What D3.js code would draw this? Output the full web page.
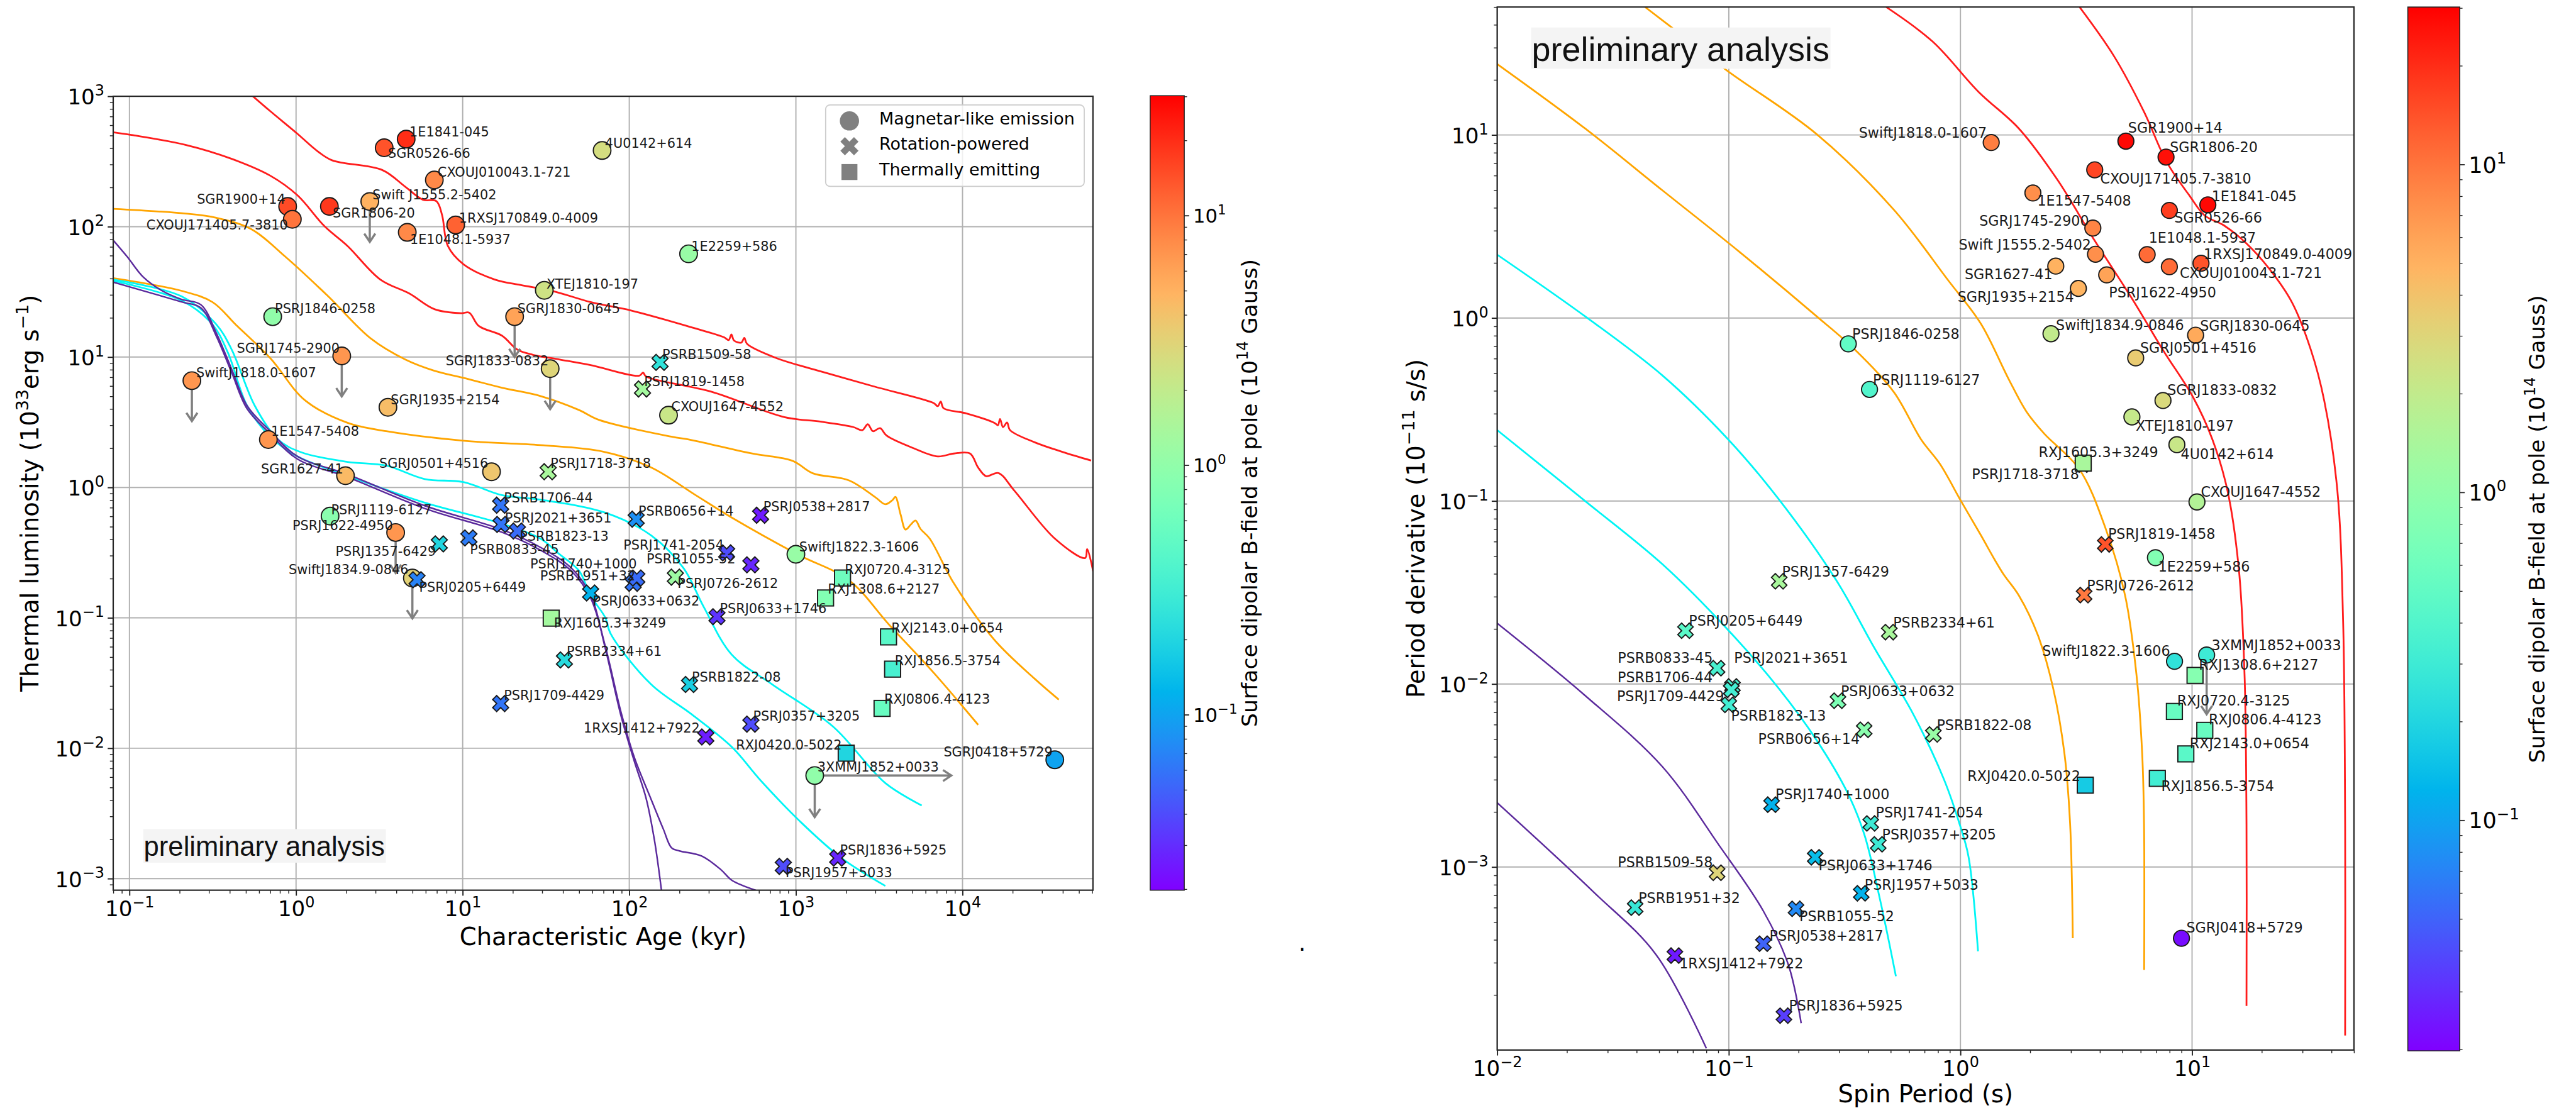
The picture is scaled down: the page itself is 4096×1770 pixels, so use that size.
<!DOCTYPE html>
<html>
<head>
<meta charset="utf-8">
<title>Neutron star thermal luminosity and spin evolution</title>
<script src="https://cdn.jsdelivr.net/npm/d3@7/dist/d3.min.js"></script>
<style>
  html, body { margin: 0; padding: 0; background: #fff; overflow: hidden; }
  svg { display: block; }
</style>
</head>
<body>
<svg id="fig" width="4096" height="1770" viewBox="0 0 4681 2023"></svg>
<script>
// ---------------------------------------------------------------------------
// Data
// ---------------------------------------------------------------------------

// Colour axis: surface dipolar B-field at the pole (1e14 G), log scale
const fieldRange = [0.0198, 30.2];
const fieldTicks = [0.1, 1, 10];

// Left panel axes
const ageRange = [0.0799, 60640];          // kyr
const lumRange = [8.15e-4, 1000];          // 1e33 erg/s
const ageTicks = [0.1, 1, 10, 100, 1000, 10000];
const lumTicks = [0.001, 0.01, 0.1, 1, 10, 100, 1000];

// Right panel axes
const periodRange = [0.01, 50];            // s
const pdotRange = [1e-4, 50];              // 1e-11 s/s
const periodTicks = [0.01, 0.1, 1, 10];
const pdotTicks = [0.001, 0.01, 0.1, 1, 10];

// Source classes: M = magnetar-like emission, R = rotation-powered, T = thermally emitting
const classNames = [["M", "Magnetar-like emission"], ["R", "Rotation-powered"], ["T", "Thermally emitting"]];

// [name, class, characteristic age (kyr), thermal luminosity (1e33 erg/s), B pole (1e14 G)]
const lumAgeSources = [
  ["1E1841-045", "M", 4.58, 469, 20],
  ["SGR0526-66", "M", 3.38, 403, 14],
  ["CXOUJ010043.1-721", "M", 6.76, 228, 8],
  ["Swift J1555.2-5402", "M", 2.77, 156, 5],
  ["SGR1900+14", "M", 0.89, 143, 15],
  ["CXOUJ171405.7-3810", "M", 0.95, 114, 10],
  ["SGR1806-20", "M", 1.585, 143, 18],
  ["1RXSJ170849.0-4009", "M", 9.08, 103, 12],
  ["1E1048.1-5937", "M", 4.65, 90.4, 8],
  ["4U0142+614", "M", 68.7, 384, 2.6],
  ["XTEJ1810-197", "M", 30.9, 32.5, 2.4],
  ["1E2259+586", "M", 227, 61.9, 1.1],
  ["PSRJ1846-0258", "M", 0.724, 20.4, 1.0],
  ["SGRJ1830-0645", "M", 20.5, 20.4, 6],
  ["SGRJ1745-2900", "M", 1.88, 10.2, 7],
  ["SGRJ1833-0832", "M", 33.5, 8.15, 3],
  ["SwiftJ1818.0-1607", "M", 0.237, 6.59, 7],
  ["SGRJ1935+2154", "M", 3.56, 4.12, 4.3],
  ["1E1547-5408", "M", 0.682, 2.33, 7],
  ["SGRJ0501+4516", "M", 14.9, 1.32, 3.8],
  ["SGR1627-41", "M", 1.98, 1.23, 4.5],
  ["PSRJ1119-6127", "M", 1.6, 0.603, 0.9],
  ["PSRJ1622-4950", "M", 3.96, 0.451, 7],
  ["SwiftJ1834.9-0846", "M", 4.99, 0.202, 3.2],
  ["SwiftJ1822.3-1606", "M", 1000, 0.307, 1.1],
  ["3XMMJ1852+0033", "M", 1297, 0.00617, 1.0],
  ["SGRJ0418+5729", "M", 35800, 0.00815, 0.1],
  ["CXOUJ1647-4552", "M", 172, 3.58, 2.2],
  ["PSRJ1718-3718", "R", 32.6, 1.32, 1.4],
  ["PSRB1509-58", "R", 153, 9.1, 0.25],
  ["PSRJ1819-1458", "R", 120, 5.69, 1.3],
  ["PSRJ1357-6429", "R", 7.24, 0.369, 0.2],
  ["PSRJ0205+6449", "R", 5.32, 0.196, 0.07],
  ["PSRB0833-45", "R", 10.9, 0.41, 0.065],
  ["PSRB1706-44", "R", 16.9, 0.731, 0.06],
  ["PSRJ2021+3651", "R", 17.0, 0.52, 0.06],
  ["PSRB1823-13", "R", 21.3, 0.463, 0.055],
  ["PSRB1951+32", "R", 105.5, 0.184, 0.06],
  ["PSRJ1740+1000", "R", 111, 0.202, 0.055],
  ["PSRJ0633+0632", "R", 58.6, 0.155, 0.12],
  ["PSRB2334+61", "R", 40.8, 0.0475, 0.22],
  ["PSRJ1709-4429", "R", 16.9, 0.022, 0.06],
  ["PSRB0656+14", "R", 110, 0.571, 0.08],
  ["PSRJ0538+2817", "R", 614, 0.612, 0.025],
  ["PSRJ1741-2054", "R", 384, 0.315, 0.04],
  ["PSRB1055-52", "R", 537, 0.255, 0.028],
  ["PSRJ0726-2612", "R", 189, 0.205, 1.2],
  ["PSRJ0633+1746", "R", 336, 0.102, 0.032],
  ["PSRB1822-08", "R", 230, 0.0308, 0.18],
  ["PSRJ0357+3205", "R", 537, 0.0153, 0.04],
  ["1RXSJ1412+7922", "R", 288, 0.0122, 0.026],
  ["PSRJ1836+5925", "R", 1782, 0.001436, 0.028],
  ["PSRJ1957+5033", "R", 840, 0.00124, 0.04],
  ["RXJ1605.3+3249", "T", 34, 0.0994, 1.3],
  ["RXJ0720.4-3125", "T", 1905, 0.202, 0.6],
  ["RXJ1308.6+2127", "T", 1507, 0.142, 0.8],
  ["RXJ2143.0+0654", "T", 3597, 0.0714, 0.45],
  ["RXJ1856.5-3754", "T", 3805, 0.0404, 0.35],
  ["RXJ0806.4-4123", "T", 3289, 0.0202, 0.55],
  ["RXJ0420.0-5022", "T", 2004, 0.00916, 0.2]
];

// Upper limits / lower limits: [name, direction, factor applied to the value]
const lumAgeLimits = [
  ["Swift J1555.2-5402", "down", 0.49],
  ["SGRJ1830-0645", "down", 0.49],
  ["SGRJ1745-2900", "down", 0.49],
  ["SGRJ1833-0832", "down", 0.49],
  ["SwiftJ1818.0-1607", "down", 0.49],
  ["PSRJ1622-4950", "down", 0.49],
  ["SwiftJ1834.9-0846", "down", 0.49],
  ["3XMMJ1852+0033", "down", 0.48],
  ["3XMMJ1852+0033", "right", 6.6]
];

// Luminosity tracks [age kyr, L 1e33 erg/s]
const lumTrackHighA = [[0.551,1000],[0.70,769],[1.019,516],[1.329,384],[1.644,323],[3.29,272],[4.53,202],[5.77,161],[6.95,157],[7.52,123],[8.15,71.1],[10.09,51.6],[15.5,39.4],[22.4,35.6],[34.4,32.2],[58.6,26.4],[102.6,22.75],[236.6,16.9],[369.8,14.2],[395,13.5],[410,14.9],[425,13.4],[470,12.9],[490,14.0],[510,12.6],[763.8,9.82],[1500,7.6],[2911,5.97],[6714,4.44],[7100,4.2],[7400,4.55],[7700,4.05],[10500,3.7],[15524,3.13],[16300,3.0],[16800,3.35],[17500,2.9],[18500,3.15],[19300,2.75],[27100,2.22],[40000,1.87],[59160,1.61]];
const lumTrackHighB = [[0.0799,530],[0.1028,505],[0.2168,424],[0.411,331],[0.70,246],[1.019,174],[1.479,101],[2.037,71.1],[3.206,39.3],[4.786,30.7],[6.761,23.3],[9.817,21.7],[10.94,21.9],[12.5,17.3],[17.2,14.6],[21.3,11.4],[26.4,10.4],[38.3,9.57],[58.6,8.67],[115,7.2],[121,7.6],[126,7.1],[312.6,5.41],[853,3.46],[1400,3.2],[2203,2.91],[2500,2.75],[2700,3.05],[2900,2.7],[3200,2.85],[3500,2.5],[5082,2.0],[7096,1.73],[8872,1.82],[11092,1.82],[12417,1.42],[13868,1.22],[16406,1.29],[20512,0.942],[35810,0.4055],[54450,0.2877],[55980,0.337],[60810,0.2275]];
const lumTrackMidA = [[0.0799,137],[0.2168,126],[0.332,117],[0.537,95.9],[0.867,58.5],[1.56,29.2],[2.805,13.9],[4.529,9.57],[6.761,7.85],[10.09,6.93],[17.2,5.82],[29.3,5.02],[50.0,3.92],[65.6,3.30],[179,2.45],[236.6,2.31],[545.8,1.82],[955,1.60],[1262,1.285],[2084,1.132],[3000,0.84],[3443,0.743],[3800,0.80],[3954,0.847],[4250,0.62],[4550,0.475],[4900,0.52],[5224,0.557],[5600,0.48],[6353,0.4055],[8872,0.184],[15524,0.0678],[27100,0.0341],[37840,0.0236]];
const lumTrackMidB = [[0.0799,40.3],[0.2056,32.2],[0.3148,26.4],[0.4335,17.8],[0.70,9.82],[1.132,4.66],[2.037,3.13],[3.475,2.70],[10.09,2.28],[29.3,2.11],[70,1.88],[135.5,1.42],[250,0.873],[413,0.586],[1021,0.307],[2084,0.194],[3639,0.0881],[6714,0.0379],[12417,0.0151]];
const lumTrackLowA = [[0.0799,39.3],[0.2056,29.2],[0.332,17.8],[0.411,11.4],[0.566,4.22],[0.78,2.33],[1.074,1.86],[2.037,1.57],[3.475,1.47],[5.916,1.16],[10.09,1.10],[17.2,0.873],[29.3,0.805],[71.9,0.64],[135.5,0.428],[211.8,0.24],[280,0.121],[413,0.052],[722.8,0.0308],[1667,0.0147],[3443,0.0054],[5689,0.00364]];
const lumTrackLowB = [[0.0799,38.4],[0.2056,27.1],[0.3148,17.8],[0.39,10.8],[0.509,4.22],[0.70,2.45],[1.019,1.73],[2.037,1.23],[5.916,0.764],[17.2,0.527],[29.3,0.4055],[37.6,0.312],[50,0.229],[58.6,0.148],[71.9,0.10],[77.4,0.0752],[135.5,0.0308],[236.6,0.0182],[413,0.0102],[611,0.0057],[1067,0.00272],[1862,0.00145],[3443,0.000879]];
const lumTrackVlowA = [[0.0799,78.7],[0.0973,58.5],[0.1205,41.3],[0.1574,32.2],[0.2056,27.7],[0.2685,25.2],[0.332,15.3],[0.411,8.04],[0.509,4.22],[0.70,2.70],[1.019,1.73],[2.037,1.26],[5.916,0.724],[17.2,0.475],[29.3,0.347],[45.0,0.24],[58.6,0.149],[71.9,0.0578],[89.1,0.0178],[107.2,0.00794],[125.9,0.00417],[141.3,0.002],[156,0.000813]];
const lumTrackVlowB = [[0.0799,37.5],[0.2056,26.5],[0.2685,23.8],[0.332,14.5],[0.411,7.6],[0.509,4.0],[0.70,2.58],[1.019,1.65],[2.037,1.2],[5.916,0.69],[17.2,0.453],[29.3,0.33],[45.0,0.228],[58.6,0.142],[71.9,0.06],[89.1,0.019],[107.2,0.0085],[134,0.00417],[160,0.0024],[179.5,0.00172],[200,0.00163],[272,0.00149],[355,0.00117],[413,0.00097],[575,0.000813]];

// [name, class, spin period (s), period derivative (1e-11 s/s), B pole (1e14 G)]
const spinSources = [
  ["SwiftJ1818.0-1607", "M", 1.358, 9.09, 9],
  ["PSRJ1846-0258", "M", 0.328, 0.722, 0.5],
  ["PSRJ1119-6127", "M", 0.405, 0.407, 0.4],
  ["SGR1900+14", "M", 5.18, 9.25, 28],
  ["SGR1806-20", "M", 7.72, 7.57, 26],
  ["CXOUJ171405.7-3810", "M", 3.80, 6.45, 16],
  ["1E1547-5408", "M", 2.055, 4.82, 7.5],
  ["1E1841-045", "M", 11.7, 4.15, 28],
  ["SGR0526-66", "M", 7.98, 3.87, 17],
  ["SGRJ1745-2900", "M", 3.73, 3.10, 8.5],
  ["Swift J1555.2-5402", "M", 3.83, 2.23, 7.5],
  ["1E1048.1-5937", "M", 6.4, 2.22, 11],
  ["1RXSJ170849.0-4009", "M", 10.93, 1.99, 14],
  ["CXOUJ010043.1-721", "M", 7.98, 1.905, 11],
  ["SGR1627-41", "M", 2.58, 1.92, 5],
  ["PSRJ1622-4950", "M", 4.28, 1.72, 6],
  ["SGRJ1935+2154", "M", 3.23, 1.45, 4.8],
  ["SwiftJ1834.9-0846", "M", 2.46, 0.82, 2],
  ["SGRJ1830-0645", "M", 10.36, 0.805, 5.5],
  ["SGRJ0501+4516", "M", 5.71, 0.605, 3.5],
  ["SGRJ1833-0832", "M", 7.49, 0.354, 2.8],
  ["XTEJ1810-197", "M", 5.5, 0.288, 2.1],
  ["4U0142+614", "M", 8.6, 0.203, 2.2],
  ["CXOUJ1647-4552", "M", 10.5, 0.0988, 1.6],
  ["1E2259+586", "M", 6.95, 0.049, 0.8],
  ["SwiftJ1822.3-1606", "M", 8.4, 0.0133, 0.25],
  ["3XMMJ1852+0033", "M", 11.56, 0.0144, 0.3],
  ["SGRJ0418+5729", "M", 9.0, 0.000408, 0.022],
  ["PSRJ1718-3718", "R", 3.38, 0.158, 1.4],
  ["PSRJ1819-1458", "R", 4.22, 0.0579, 14],
  ["PSRJ0726-2612", "R", 3.42, 0.0306, 9.5],
  ["PSRJ1357-6429", "R", 0.165, 0.0364, 1.4],
  ["PSRJ0205+6449", "R", 0.065, 0.01955, 0.45],
  ["PSRB2334+61", "R", 0.493, 0.0192, 1.4],
  ["PSRB0833-45", "R", 0.089, 0.0122, 0.35],
  ["PSRJ2021+3651", "R", 0.1037, 0.0097, 0.35],
  ["PSRB1706-44", "R", 0.1025, 0.0093, 0.33],
  ["PSRJ1709-4429", "R", 0.1025, 0.0093, 0.33],
  ["PSRB1823-13", "R", 0.1, 0.00769, 0.32],
  ["PSRJ0633+0632", "R", 0.296, 0.0081, 0.75],
  ["PSRB0656+14", "R", 0.384, 0.00562, 0.9],
  ["PSRB1822-08", "R", 0.764, 0.0053, 1.1],
  ["PSRJ1740+1000", "R", 0.153, 0.00219, 0.12],
  ["PSRJ1741-2054", "R", 0.41, 0.00173, 0.3],
  ["PSRJ0357+3205", "R", 0.4416, 0.00133, 0.3],
  ["PSRJ0633+1746", "R", 0.236, 0.00113, 0.14],
  ["PSRB1509-58", "R", 0.089, 0.00093, 3],
  ["PSRJ1957+5033", "R", 0.373, 0.000718, 0.12],
  ["PSRB1951+32", "R", 0.0394, 0.0006, 0.28],
  ["PSRB1055-52", "R", 0.195, 0.000591, 0.075],
  ["PSRJ0538+2817", "R", 0.141, 0.000381, 0.05],
  ["1RXSJ1412+7922", "R", 0.0585, 0.000328, 0.025],
  ["PSRJ1836+5925", "R", 0.173, 0.000154, 0.035],
  ["RXJ1605.3+3249", "T", 3.39, 0.161, 1.4],
  ["RXJ1308.6+2127", "T", 10.3, 0.01114, 0.85],
  ["RXJ0720.4-3125", "T", 8.39, 0.00708, 0.55],
  ["RXJ0806.4-4123", "T", 11.35, 0.00558, 0.55],
  ["RXJ2143.0+0654", "T", 9.4, 0.00415, 0.45],
  ["RXJ1856.5-3754", "T", 7.08, 0.00305, 0.32],
  ["RXJ0420.0-5022", "T", 3.46, 0.0028, 0.17]
];

const spinLimits = [["3XMMJ1852+0033", "down", 0.475]];

// Spin tracks [P s, Pdot 1e-11 s/s]
const spinTrackHighA = [[0.478,50],[0.758,32.4],[1.20,17.15],[1.788,10.84],[2.608,5.75],[3.80,2.644],[5.54,1.26],[7.49,0.668],[10.13,0.3667],[12.23,0.2176],[14.22,0.114],[15.93,0.0422],[16.85,0.01125],[17.18,0.00172],[17.18,0.000174]];
const spinTrackHighB = [[3.268,50],[4.59,27.1],[6.20,13.4],[7.78,7.10],[9.76,4.65],[11.34,3.63],[13.70,3.21],[17.18,2.553],[21.54,1.858],[27.0,1.217],[32.6,0.668],[37.2,0.354],[42.4,0.114],[44.9,0.0218],[45.8,0.00172],[45.8,0.00012]];
const spinTrackMidA = [[0.0435,50],[0.0568,38.6],[0.0973,22.7],[0.2395,10.1],[0.516,3.90],[0.883,1.613],[1.226,0.929],[1.612,0.4655],[1.928,0.3076],[2.30,0.2332],[3.268,0.1485],[4.256,0.0694],[5.14,0.0304],[5.754,0.01125],[6.09,0.00417],[6.204,0.00172],[6.211,0.000274]];
const spinTrackMidB = [[0.01,24.4],[0.02398,10.84],[0.0516,4.99],[0.1112,2.296],[0.2396,1.02],[0.3518,0.668],[0.516,0.3935],[0.675,0.2176],[0.818,0.1586],[0.991,0.1032],[1.227,0.0648],[1.40,0.0482],[1.538,0.0396],[1.789,0.0304],[2.159,0.01848],[2.511,0.00954],[2.812,0.00417],[2.975,0.00172],[3.055,0.000408]];
const spinTrackLowA = [[0.01,2.217],[0.02398,1.020],[0.0516,0.486],[0.0992,0.2176],[0.1633,0.1032],[0.2904,0.037],[0.426,0.01566],[0.6252,0.00685],[0.850,0.0030],[0.991,0.00172],[1.083,0.001143],[1.191,0.000346]];
const spinTrackLowB = [[0.01,0.2438],[0.02398,0.0999],[0.0516,0.0452],[0.0992,0.01975],[0.1633,0.00954],[0.2396,0.00492],[0.3257,0.00254],[0.3846,0.001506],[0.45,0.00066],[0.5264,0.000253]];
const spinTrackVlowA = [[0.01,0.02146],[0.02398,0.00864],[0.0516,0.00354],[0.0908,0.001313],[0.1408,0.000576],[0.1811,0.00029],[0.2053,0.00014]];
const spinTrackVlowB = [[0.01,0.002243],[0.02586,0.000737],[0.0485,0.000332],[0.08,0.000102]];

// ---------------------------------------------------------------------------
// Layout and style
// ---------------------------------------------------------------------------
const FONT = "'DejaVu Sans', 'Liberation Sans', sans-serif";
const boxL = {x0: 205.5, x1: 1986, y0: 175, y1: 1618};
const boxR = {x0: 2720.7, x1: 4277.7, y0: 12.8, y1: 1908.5};
const cbarL = {x0: 2090, x1: 2152, y0: 174, y1: 1618};
const cbarR = {x0: 4375.6, x1: 4470, y0: 12.8, y1: 1910};

const trackStroke = {high: "#ff1c1c", mid: "#ffa500", low: "#00f5f5", vlow: "#5b2a9c"};

// label placement relative to the marker: [anchor s/e, dx, dy]
const lumAgeLabelPos = {
  "1E1841-045": ["s",6,-14], "SGR0526-66": ["s",7,10], "CXOUJ010043.1-721": ["s",6,-15],
  "Swift J1555.2-5402": ["s",5,-12], "SGR1900+14": ["e",-4,-14], "CXOUJ171405.7-3810": ["e",-8,10],
  "SGR1806-20": ["s",6,12], "1RXSJ170849.0-4009": ["s",6,-13], "1E1048.1-5937": ["s",5,12],
  "4U0142+614": ["s",5,-14], "XTEJ1810-197": ["s",4,-12], "1E2259+586": ["s",5,-14],
  "PSRJ1846-0258": ["s",4,-15], "SGRJ1830-0645": ["s",5,-15], "SGRJ1745-2900": ["e",-4,-14],
  "SGRJ1833-0832": ["e",-3,-15], "SwiftJ1818.0-1607": ["s",8,-15], "SGRJ1935+2154": ["s",5,-14],
  "1E1547-5408": ["s",5,-15], "SGRJ0501+4516": ["e",-6,-16], "SGR1627-41": ["e",-4,-13],
  "PSRJ1718-3718": ["s",4,-16], "PSRB1706-44": ["s",6,-14], "PSRJ2021+3651": ["s",7,-12],
  "PSRB1823-13": ["s",4,9], "PSRJ1119-6127": ["s",2,-12], "PSRJ1622-4950": ["e",-5,-13],
  "PSRJ1357-6429": ["e",-6,13], "PSRB0833-45": ["s",2,21], "SwiftJ1834.9-0846": ["e",-7,-16],
  "PSRJ0205+6449": ["s",4,13], "PSRJ1740+1000": ["e",0,-26], "PSRB1951+32": ["e",4,-14],
  "PSRJ0633+0632": ["s",4,14], "RXJ1605.3+3249": ["s",5,9], "PSRB2334+61": ["s",4,-16],
  "PSRJ1709-4429": ["s",6,-15], "1RXSJ1412+7922": ["e",-11,-16], "PSRB0656+14": ["s",4,-15],
  "PSRJ0538+2817": ["s",5,-16], "PSRJ1741-2054": ["e",-5,-15], "PSRB1055-52": ["e",-28,-11],
  "PSRJ0726-2612": ["s",4,11], "PSRJ0633+1746": ["s",5,-15], "SwiftJ1822.3-1606": ["s",6,-14],
  "RXJ0720.4-3125": ["s",4,-16], "RXJ1308.6+2127": ["s",4,-16], "RXJ2143.0+0654": ["s",5,-16],
  "RXJ1856.5-3754": ["s",4,-16], "RXJ0806.4-4123": ["s",4,-17], "PSRB1822-08": ["s",4,-14],
  "PSRJ0357+3205": ["s",4,-15], "RXJ0420.0-5022": ["e",-8,-15], "3XMMJ1852+0033": ["s",5,-16],
  "SGRJ0418+5729": ["e",-4,-15], "PSRJ1836+5925": ["s",4,-15], "PSRJ1957+5033": ["s",4,11],
  "PSRB1509-58": ["s",4,-15], "PSRJ1819-1458": ["s",3,-14], "CXOUJ1647-4552": ["s",5,-16]
};
const spinLabelPos = {
  "SwiftJ1818.0-1607": ["e",-8,-18], "PSRJ1846-0258": ["s",7,-18], "PSRJ1119-6127": ["s",6,-18],
  "SGR1900+14": ["s",4,-24], "SGR1806-20": ["s",7,-18], "CXOUJ171405.7-3810": ["s",10,16],
  "1E1547-5408": ["s",8,14], "1E1841-045": ["s",7,-16], "SGR0526-66": ["s",9,13],
  "SGRJ1745-2900": ["e",-7,-13], "Swift J1555.2-5402": ["e",-8,-18], "1E1048.1-5937": ["s",3,-31],
  "1RXSJ170849.0-4009": ["s",5,-17], "CXOUJ010043.1-721": ["s",19,11], "SGR1627-41": ["e",-6,15],
  "PSRJ1622-4950": ["s",4,32], "SGRJ1935+2154": ["e",-8,15], "SwiftJ1834.9-0846": ["s",9,-16],
  "SGRJ1830-0645": ["s",8,-17], "SGRJ0501+4516": ["s",8,-18], "SGRJ1833-0832": ["s",8,-19],
  "XTEJ1810-197": ["s",7,16], "4U0142+614": ["s",7,17], "RXJ1605.3+3249": ["s",-81,-20],
  "PSRJ1718-3718": ["e",-7,17], "CXOUJ1647-4552": ["s",7,-18], "PSRJ1819-1458": ["s",5,-19],
  "1E2259+586": ["s",5,16], "PSRJ0726-2612": ["s",5,-18], "SwiftJ1822.3-1606": ["e",-8,-19],
  "3XMMJ1852+0033": ["s",9,-18], "RXJ1308.6+2127": ["s",7,-20], "RXJ0720.4-3125": ["s",5,-20],
  "RXJ0806.4-4123": ["s",7,-20], "RXJ2143.0+0654": ["s",7,-19], "RXJ1856.5-3754": ["s",7,14],
  "RXJ0420.0-5022": ["e",-9,-17], "PSRJ1357-6429": ["s",5,-18], "PSRJ0205+6449": ["s",6,-18],
  "PSRB2334+61": ["s",7,-18], "PSRB0833-45": ["e",-8,-19], "PSRJ2021+3651": ["s",3,-52],
  "PSRB1706-44": ["e",-34,-23], "PSRJ1709-4429": ["e",-13,11], "PSRB1823-13": ["s",4,19],
  "PSRJ0633+0632": ["s",5,-18], "PSRB0656+14": ["e",-8,17], "PSRB1822-08": ["s",6,-17],
  "PSRJ1740+1000": ["s",7,-19], "PSRJ1741-2054": ["s",9,-20], "PSRJ0357+3205": ["s",7,-18],
  "PSRJ0633+1746": ["s",6,15], "PSRB1509-58": ["e",-8,-19], "PSRJ1957+5033": ["s",6,-16],
  "PSRB1951+32": ["s",6,-18], "PSRB1055-52": ["s",6,13], "SGRJ0418+5729": ["s",9,-19],
  "PSRJ0538+2817": ["s",11,-15], "1RXSJ1412+7922": ["s",8,14], "PSRJ1836+5925": ["s",9,-18]
};

// ---------------------------------------------------------------------------
// Helpers
// ---------------------------------------------------------------------------
const svg = d3.select("#fig").attr("font-family", FONT);
const defs = svg.append("defs");

// matplotlib-style "rainbow" colormap
function rainbow(t) {
  const r = Math.min(1, Math.abs(2 * t - 0.5));
  const g = Math.max(0, Math.sin(Math.PI * t));
  const b = Math.max(0, Math.cos(Math.PI * t / 2));
  return d3.rgb(r * 255, g * 255, b * 255).formatHex();
}
const fieldNorm = d3.scaleLog().domain(fieldRange).range([0, 1]).clamp(true);
const fieldColor = v => rainbow(fieldNorm(v));

function minorTicks(domain) {
  const [a, b] = domain, out = [];
  for (let e = Math.floor(Math.log10(a)); e <= Math.ceil(Math.log10(b)); e++) {
    for (let m = 2; m <= 9; m++) {
      const v = m * Math.pow(10, e);
      if (v >= a * 0.999 && v <= b * 1.001) out.push(v);
    }
  }
  return out;
}

function powerLabel(sel, v, fs) {
  const k = Math.round(Math.log10(v));
  sel.text(null);
  sel.append("tspan").text("10");
  sel.append("tspan").attr("font-size", fs * 0.7).attr("dy", -fs * 0.42)
    .text(k < 0 ? "\u2212" + (-k) : String(k));
}

// text made of normal / superscript runs
function richText(sel, parts, fs) {
  let prevSup = false;
  parts.forEach(([s, sup]) => {
    const t = sel.append("tspan").text(s);
    if (sup) t.attr("font-size", fs * 0.7);
    if (sup && !prevSup) t.attr("dy", -fs * 0.42);
    if (!sup && prevSup) t.attr("dy", fs * 0.42);
    prevSup = sup;
  });
}

const X_PTS = [[-1,-3],[-1,-1],[-3,-1],[-3,1],[-1,1],[-1,3],[1,3],[1,1],[3,1],[3,-1],[1,-1],[1,-3]];
function xMarkerPath(width) {
  const s = width / 0.9428 / 6;
  return "M" + X_PTS.map(([a, b]) =>
    [((a - b) / Math.SQRT2 * s).toFixed(2), ((a + b) / Math.SQRT2 * s).toFixed(2)].join(",")
  ).join("L") + "Z";
}

function drawMarker(g, cls, fill, size, stroke) {
  const sw = stroke ? 2.2 : 0;
  if (cls === "M") {
    g.append("circle").attr("r", size.circle / 2).attr("fill", fill)
      .attr("stroke", stroke || "none").attr("stroke-width", sw);
  } else if (cls === "R") {
    g.append("path").attr("d", xMarkerPath(size.x)).attr("fill", fill)
      .attr("stroke", stroke || "none").attr("stroke-width", sw).attr("stroke-linejoin", "miter");
  } else {
    g.append("rect").attr("x", -size.square / 2).attr("y", -size.square / 2)
      .attr("width", size.square).attr("height", size.square).attr("fill", fill)
      .attr("stroke", stroke || "none").attr("stroke-width", sw);
  }
}

function arrow(g, x1, y1, x2, y2) {
  const dx = x2 - x1, dy = y2 - y1, len = Math.hypot(dx, dy);
  const ux = dx / len, uy = dy / len, px = -uy, py = ux;
  const hl = 15, hw = 10;
  g.append("line").attr("x1", x1).attr("y1", y1).attr("x2", x2).attr("y2", y2)
    .attr("stroke", "#808080").attr("stroke-width", 4);
  g.append("path")
    .attr("d", `M${x2 - ux * hl + px * hw},${y2 - uy * hl + py * hw}L${x2},${y2}L${x2 - ux * hl - px * hw},${y2 - uy * hl - py * hw}`)
    .attr("fill", "none").attr("stroke", "#808080").attr("stroke-width", 4)
    .attr("stroke-linejoin", "miter");
}

// ---------------------------------------------------------------------------
// Panel
// ---------------------------------------------------------------------------
function drawPanel(o) {
  const {x, y, box} = o;
  const g = svg.append("g");
  defs.append("clipPath").attr("id", o.id + "-clip").append("rect")
    .attr("x", box.x0).attr("y", box.y0).attr("width", box.x1 - box.x0).attr("height", box.y1 - box.y0);

  // grid
  const grid = g.append("g").attr("stroke", "#b0b0b0").attr("stroke-width", 2.2);
  grid.selectAll(".gx").data(o.xTicks).join("line").attr("class", "gx")
    .attr("x1", d => x(d)).attr("x2", d => x(d)).attr("y1", box.y0).attr("y2", box.y1);
  grid.selectAll(".gy").data(o.yTicks).join("line").attr("class", "gy")
    .attr("y1", d => y(d)).attr("y2", d => y(d)).attr("x1", box.x0).attr("x2", box.x1);

  // evolutionary tracks
  const line = d3.line().x(d => x(d[0])).y(d => y(d[1])).curve(d3.curveCatmullRom.alpha(0.5));
  g.append("g").attr("clip-path", `url(#${o.id}-clip)`)
    .selectAll("path").data(o.tracks).join("path")
    .attr("d", d => line(d.pts)).attr("fill", "none")
    .attr("stroke", d => trackStroke[d.kind])
    .attr("stroke-width", d => d.kind === "vlow" ? 2.8 : 3.2)
    .attr("stroke-linejoin", "round");

  if (o.before) o.before(g);

  // limit arrows
  const byName = new Map(o.sources.map(s => [s[0], s]));
  const ga = g.append("g");
  o.limits.forEach(([name, dir, f]) => {
    const s = byName.get(name);
    const x0 = x(s[2]), y0 = y(s[3]);
    if (dir === "down") arrow(ga, x0, y0, x0, y(s[3] * f));
    else arrow(ga, x0, y0, x(s[2] * f), y0);
  });

  // markers
  const gm = g.append("g");
  o.sources.forEach(s => {
    const m = gm.append("g").attr("transform", `translate(${x(s[2])},${y(s[3])})`);
    drawMarker(m, s[1], fieldColor(s[4]), o.markerSize, "#1a1a1a");
  });

  // labels
  g.append("g").attr("fill", "#1a1a1a").attr("font-size", o.labelFs)
    .selectAll("text").data(o.sources).join("text")
    .attr("x", d => x(d[2]) + (o.labelPos[d[0]] || ["s",5,-15])[1])
    .attr("y", d => y(d[3]) + (o.labelPos[d[0]] || ["s",5,-15])[2])
    .attr("dy", "0.36em")
    .attr("text-anchor", d => (o.labelPos[d[0]] || ["s"])[0] === "e" ? "end" : "start")
    .text(d => d[0]);

  // axes: ticks through d3 axes
  const tickFs = 39;
  const styleAxis = (ax, w) => {
    ax.select(".domain").remove();
    ax.selectAll(".tick line").attr("stroke", "#222").attr("stroke-width", w);
  };
  const axB = g.append("g").attr("transform", `translate(0,${box.y1})`)
    .call(d3.axisBottom(x).tickValues(o.xTicks).tickSize(10).tickFormat(""));
  styleAxis(axB, 2.2);
  axB.selectAll(".tick text").attr("y", 47.5).attr("dy", null).attr("fill", "#000")
    .attr("font-size", tickFs).attr("font-family", FONT).attr("text-anchor", "middle")
    .each(function (d) { powerLabel(d3.select(this), d, tickFs); });
  const axBm = g.append("g").attr("transform", `translate(0,${box.y1})`)
    .call(d3.axisBottom(x).tickValues(minorTicks(x.domain())).tickSize(6).tickFormat(""));
  styleAxis(axBm, 1.6);
  axBm.selectAll(".tick text").remove();

  const axL = g.append("g").attr("transform", `translate(${box.x0},0)`)
    .call(d3.axisLeft(y).tickValues(o.yTicks).tickSize(10).tickFormat(""));
  styleAxis(axL, 2.2);
  axL.selectAll(".tick text").attr("x", -16).attr("y", 14.7).attr("dy", null).attr("fill", "#000")
    .attr("font-size", tickFs).attr("font-family", FONT).attr("text-anchor", "end")
    .each(function (d) { powerLabel(d3.select(this), d, tickFs); });
  const axLm = g.append("g").attr("transform", `translate(${box.x0},0)`)
    .call(d3.axisLeft(y).tickValues(minorTicks(y.domain())).tickSize(6).tickFormat(""));
  styleAxis(axLm, 1.6);
  axLm.selectAll(".tick text").remove();

  // spines
  g.append("rect").attr("x", box.x0).attr("y", box.y0)
    .attr("width", box.x1 - box.x0).attr("height", box.y1 - box.y0)
    .attr("fill", "none").attr("stroke", "#262626").attr("stroke-width", 2.5);

  // axis titles
  const fs = 44;
  g.append("text").attr("x", (box.x0 + box.x1) / 2).attr("y", o.xTitleY)
    .attr("text-anchor", "middle").attr("font-size", fs).attr("fill", "#000").text(o.xTitle);
  const yt = g.append("text").attr("x", o.yTitleX).attr("y", (box.y0 + box.y1) / 2)
    .attr("transform", `rotate(-90,${o.yTitleX},${(box.y0 + box.y1) / 2})`)
    .attr("text-anchor", "middle").attr("font-size", fs).attr("fill", "#000");
  richText(yt, o.yTitle, fs);
  return g;
}

function drawColorbar(cb, tickFs, labelX, gradId) {
  const g = svg.append("g");
  const grad = defs.append("linearGradient").attr("id", gradId)
    .attr("x1", 0).attr("y1", 1).attr("x2", 0).attr("y2", 0);
  d3.range(0, 65).forEach(i => {
    grad.append("stop").attr("offset", i / 64).attr("stop-color", rainbow(i / 64));
  });
  g.append("rect").attr("x", cb.x0).attr("y", cb.y0).attr("width", cb.x1 - cb.x0)
    .attr("height", cb.y1 - cb.y0).attr("fill", `url(#${gradId})`)
    .attr("stroke", "#222").attr("stroke-width", 1.8);
  const s = d3.scaleLog().domain(fieldRange).range([cb.y1, cb.y0]);
  const ax = g.append("g").attr("transform", `translate(${cb.x1},0)`)
    .call(d3.axisRight(s).tickValues(fieldTicks).tickSize(9).tickFormat(""));
  ax.select(".domain").remove();
  ax.selectAll(".tick line").attr("stroke", "#222").attr("stroke-width", 2);
  ax.selectAll(".tick text").attr("x", 16).attr("y", tickFs * 0.36).attr("dy", null)
    .attr("fill", "#000").attr("font-size", tickFs).attr("font-family", FONT)
    .attr("text-anchor", "start")
    .each(function (d) { powerLabel(d3.select(this), d, tickFs); });
  const axm = g.append("g").attr("transform", `translate(${cb.x1},0)`)
    .call(d3.axisRight(s).tickValues(minorTicks(fieldRange)).tickSize(5).tickFormat(""));
  axm.select(".domain").remove();
  axm.selectAll(".tick line").attr("stroke", "#222").attr("stroke-width", 1.5);
  axm.selectAll(".tick text").remove();
  const cy = (cb.y0 + cb.y1) / 2, fs = 39.5;
  const t = g.append("text").attr("x", labelX).attr("y", cy)
    .attr("transform", `rotate(-90,${labelX},${cy})`).attr("text-anchor", "middle")
    .attr("font-size", fs).attr("fill", "#000");
  richText(t, [["Surface dipolar B-field at pole (10", false], ["14", true], [" Gauss)", false]], fs);
}

function prelimBox(x0, y0, w, h, fs, baseline) {
  const g = svg.append("g");
  g.append("rect").attr("x", x0).attr("y", y0).attr("width", w).attr("height", h).attr("fill", "#f4f4f4");
  g.append("text").attr("x", x0 + 1).attr("y", baseline)
    .attr("font-family", "'Liberation Sans', Arial, sans-serif").attr("font-size", fs)
    .attr("fill", "#111").attr("textLength", w - 3).attr("lengthAdjust", "spacingAndGlyphs")
    .text("preliminary analysis");
}

// ---------------------------------------------------------------------------
// Left: thermal luminosity vs characteristic age
// ---------------------------------------------------------------------------
const xAge = d3.scaleLog().domain(ageRange).range([boxL.x0, boxL.x1]);
const yLum = d3.scaleLog().domain(lumRange).range([boxL.y1, boxL.y0]);

drawPanel({
  id: "lum", x: xAge, y: yLum, box: boxL,
  xTicks: ageTicks, yTicks: lumTicks,
  tracks: [
    {kind: "high", pts: lumTrackHighA}, {kind: "high", pts: lumTrackHighB},
    {kind: "mid", pts: lumTrackMidA}, {kind: "mid", pts: lumTrackMidB},
    {kind: "low", pts: lumTrackLowA}, {kind: "low", pts: lumTrackLowB},
    {kind: "vlow", pts: lumTrackVlowA}, {kind: "vlow", pts: lumTrackVlowB}
  ],
  sources: lumAgeSources, limits: lumAgeLimits, labelPos: lumAgeLabelPos,
  markerSize: {circle: 32, x: 29, square: 29}, labelFs: 23.8,
  xTitle: "Characteristic Age (kyr)", xTitleY: 1718,
  yTitle: [["Thermal luminosity (10", false], ["33", true], ["erg s", false], ["\u22121", true], [")", false]],
  yTitleX: 70
});
prelimBox(260, 1507, 441, 61, 50, 1556);

// legend
(function () {
  const g = svg.append("g");
  g.append("rect").attr("x", 1500.2).attr("y", 190.8).attr("width", 470).attr("height", 148)
    .attr("rx", 8).attr("fill", "#fff").attr("fill-opacity", 0.8)
    .attr("stroke", "#cccccc").attr("stroke-width", 2);
  const rows = [214.8, 260.7, 307.7];
  classNames.forEach(([cls, label], i) => {
    const m = g.append("g").attr("transform", `translate(1543.5,${rows[i] + (i === 0 ? 5 : 5)})`);
    drawMarker(m, cls, "#808080", {circle: 35, x: 33, square: 29}, null);
    g.append("text").attr("x", 1597.7).attr("y", rows[i]).attr("dy", "0.36em")
      .attr("font-size", 30.8).attr("fill", "#000").text(label);
  });
})();

drawColorbar(cbarL, 35, 2284, "rbL");

// ---------------------------------------------------------------------------
// Right: period derivative vs spin period
// ---------------------------------------------------------------------------
const xP = d3.scaleLog().domain(periodRange).range([boxR.x0, boxR.x1]);
const yPd = d3.scaleLog().domain(pdotRange).range([boxR.y1, boxR.y0]);

drawPanel({
  id: "spin", x: xP, y: yPd, box: boxR,
  xTicks: periodTicks, yTicks: pdotTicks,
  tracks: [
    {kind: "high", pts: spinTrackHighA}, {kind: "high", pts: spinTrackHighB},
    {kind: "mid", pts: spinTrackMidA}, {kind: "mid", pts: spinTrackMidB},
    {kind: "low", pts: spinTrackLowA}, {kind: "low", pts: spinTrackLowB},
    {kind: "vlow", pts: spinTrackVlowA}, {kind: "vlow", pts: spinTrackVlowB}
  ],
  before: () => prelimBox(2782.4, 50, 544, 75, 61, 111),
  sources: spinSources, limits: spinLimits, labelPos: spinLabelPos,
  markerSize: {circle: 29, x: 28, square: 29}, labelFs: 25.4,
  xTitle: "Spin Period (s)", xTitleY: 2004,
  yTitle: [["Period derivative (10", false], ["\u221211", true], [" s/s)", false]],
  yTitleX: 2589
});

drawColorbar(cbarR, 40, 4624, "rbR");

// stray full stop between the panels
svg.append("text").attr("x", 2360).attr("y", 1728).attr("font-size", 40).attr("fill", "#000").text(".");
</script>
</body>
</html>
